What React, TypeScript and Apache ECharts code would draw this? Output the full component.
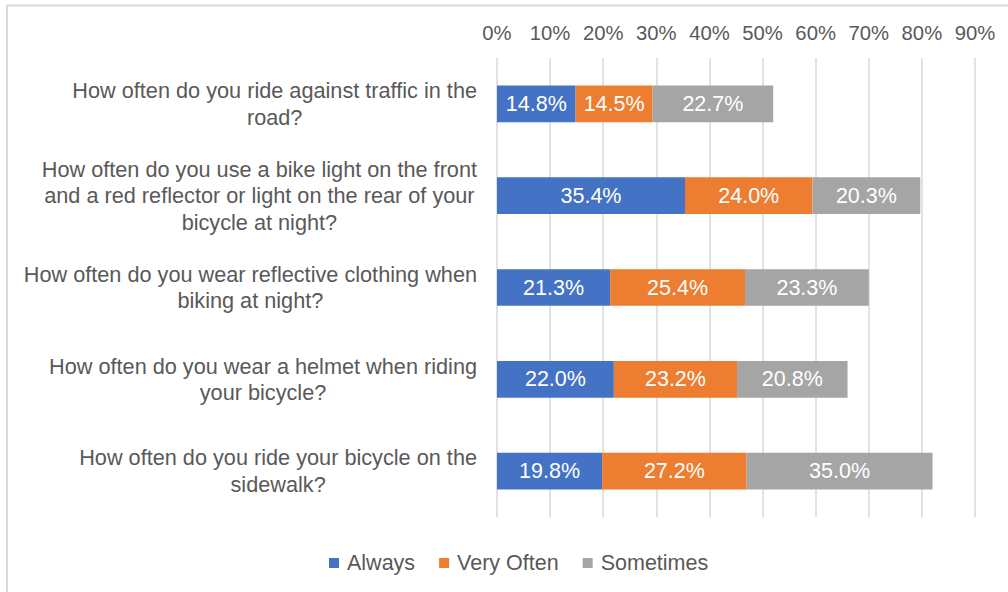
import React, { useEffect, useRef } from "react";
import * as echarts from "echarts";

const categories = [
  "How often do you ride against traffic in the\nroad?",
  "How often do you use a bike light on the front\nand a red reflector or light on the rear of your\nbicycle at night?",
  "How often do you wear reflective clothing when\nbiking at night?",
  "How often do you wear a helmet when riding\nyour bicycle?",
  "How often do you ride your bicycle on the\nsidewalk?",
];
const seriesNames = ["Always", "Very Often", "Sometimes"];
const always = [14.8, 35.4, 21.3, 22.0, 19.8];
const veryOften = [14.5, 24.0, 25.4, 23.2, 27.2];
const sometimes = [22.7, 20.3, 23.3, 20.8, 35.0];
const colors = ["#4472C4", "#ED7D31", "#A5A5A5"];
const axisMax = 90;
const axisInterval = 10;

const FONT = "'Liberation Sans', Arial, sans-serif";

export default function App() {
  const ref = useRef<HTMLDivElement>(null);
  useEffect(() => {
    if (!ref.current) return;
    const chart = echarts.init(ref.current, null, { renderer: "svg" });
    const values = [always, veryOften, sometimes];
    chart.setOption({
      animation: false,
      backgroundColor: "#ffffff",
      textStyle: { fontFamily: FONT },
      grid: { left: 497, right: 33, top: 58, bottom: 75 },
      xAxis: {
        type: "value",
        position: "top",
        min: 0,
        max: axisMax,
        interval: axisInterval,
        axisLine: { show: false },
        axisTick: { show: false },
        axisLabel: {
          formatter: "{value}%",
          color: "#595959",
          fontSize: 20.3,
          fontFamily: FONT,
          margin: 15,
        },
        splitLine: { show: true, lineStyle: { color: "#D9D9D9", width: 1.5 } },
      },
      yAxis: {
        type: "category",
        inverse: true,
        data: categories,
        axisLine: { show: false },
        axisTick: { show: false },
        axisLabel: {
          align: "right",
          margin: 20,
          color: "#595959",
          formatter: (v: string) =>
            v
              .split("\n")
              .map((l) => `{c|${l}}`)
              .join("\n"),
          rich: {
            c: {
              align: "center",
              fontSize: 21.7,
              lineHeight: 26.6,
              color: "#595959",
              fontFamily: FONT,
            },
          },
        },
      },
      legend: {
        top: 552,
        left: 329,
        padding: 0,
        itemWidth: 10,
        itemHeight: 10,
        itemGap: 24,
        icon: "rect",
        data: seriesNames,
        textStyle: {
          fontSize: 21.5,
          color: "#595959",
          fontFamily: FONT,
          padding: [0, 0, 0, 3],
        },
      },
      graphic: [
        {
          type: "line",
          shape: { x1: 7, y1: 5.5, x2: 1008, y2: 5.5 },
          style: { stroke: "#D9D9D9", lineWidth: 2 },
          silent: true,
        },
        {
          type: "line",
          shape: { x1: 7, y1: 5, x2: 7, y2: 592 },
          style: { stroke: "#D9D9D9", lineWidth: 2 },
          silent: true,
        },
      ],
      series: seriesNames.map((name, i) => ({
        name,
        type: "bar",
        stack: "total",
        barWidth: "40%",
        data: values[i],
        itemStyle: { color: colors[i] },
        label: {
          show: true,
          position: "inside",
          color: "#ffffff",
          fontSize: 21.5,
          fontFamily: FONT,
          formatter: (p: any) => `${Number(p.value).toFixed(1)}%`,
        },
      })),
    });
    return () => chart.dispose();
  }, []);
  return (
    <div
      ref={ref}
      style={{ position: "fixed", left: 0, top: 0, width: 1008, height: 592 }}
    />
  );
}
